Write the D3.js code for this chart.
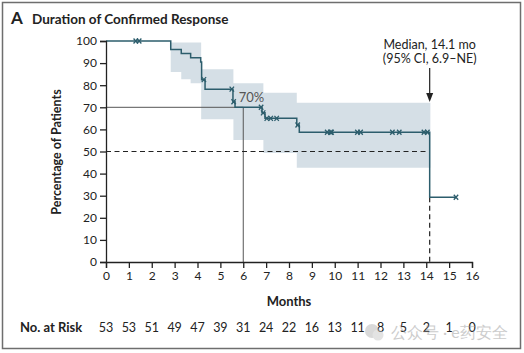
<!DOCTYPE html>
<html>
<head>
<meta charset="utf-8">
<script src="https://cdn.jsdelivr.net/npm/d3@7"></script>
<style>
  html, body { margin: 0; padding: 0; background: #fff; }
  svg { display: block; }
  text { font-family: Lato, "Open Sans", sans-serif; fill: #222; }
</style>
</head>
<body>
<svg id="chart" width="524" height="353"></svg>
<script>
// ---------- data ----------
const xTicks = [0,1,2,3,4,5,6,7,8,9,10,11,12,13,14,15,16];
const yTicks = [0,10,20,30,40,50,60,70,80,90,100];
const atRisk = [53,53,51,49,47,39,31,24,22,16,13,11,8,5,2,1,0];

// Kaplan-Meier step curve: event time, survival (%) after that time
const kmTimes = [0, 2.83, 3.29, 3.70, 4.14, 4.18, 4.33, 5.55, 5.64, 6.82, 6.95, 8.34, 8.45, 14.15, 15.3];
const kmSurv  = [100, 96.2, 94.3, 92.4, 90.5, 82.5, 78.2, 72.5, 70.0, 67.5, 65.0, 62.0, 58.7, 29.3, 29.3];

// censored observations
const censorTimes = [1.30, 1.45, 4.28, 5.50, 5.58, 6.78, 6.87, 7.03, 7.20, 7.46, 8.38, 9.67, 9.82, 9.86, 10.99, 11.13, 12.52, 12.82, 13.90, 14.05, 15.3];
const censorSurv  = [100, 100, 82.5, 78.2, 72.5, 70.0, 67.5, 65.0, 65.0, 65.0, 62.0, 58.7, 58.7, 58.7, 58.7, 58.7, 58.7, 58.7, 58.7, 58.7, 29.3];

// 95% confidence band (step)
const ciTimes = [2.83, 3.29, 3.70, 4.16, 5.57, 6.88, 8.34, 14.18];
const ciLower = [86.0, 82.7, 80.9, 64.6, 55.2, 49.3, 42.7, 42.7];
const ciUpper = [99.3, 99.3, 99.3, 87.2, 80.9, 76.6, 72.1, 72.1];

const medianTime = 14.15;
const landmarkTime = 6;
const landmarkSurv = 70;

// ---------- drawing ----------
const svg = d3.select("#chart");
const x = d3.scaleLinear().domain([0,16]).range([106,472]);
const y = d3.scaleLinear().domain([0,100]).range([262,41]);

const curveCol = "#2c5d6c";
const bandCol = "#d5dfe6";

// frame
svg.append("rect").attr("x",2.5).attr("y",2.5).attr("width",518).attr("height",346)
  .attr("fill","none").attr("stroke","#6e6e6e").attr("stroke-width",1.5);

// title
svg.append("text").attr("x",11).attr("y",24).attr("font-size",17).attr("font-weight","bold").text("A");
svg.append("text").attr("x",32).attr("y",24).attr("font-size",13.5).attr("font-weight","bold").text("Duration of Confirmed Response");

// CI band
const band = ciTimes.map((t,i)=>({t, lo: ciLower[i], hi: ciUpper[i]}));
svg.append("path").datum(band)
  .attr("fill", bandCol)
  .attr("d", d3.area().curve(d3.curveStepAfter)
    .x(d=>x(d.t)).y0(d=>y(d.lo)).y1(d=>y(d.hi)));

// reference lines
svg.append("line").attr("x1",x(0)).attr("x2",x(landmarkTime)).attr("y1",y(landmarkSurv)).attr("y2",y(landmarkSurv))
  .attr("stroke","#555").attr("stroke-width",1);
svg.append("line").attr("x1",x(landmarkTime)).attr("x2",x(landmarkTime)).attr("y1",y(landmarkSurv)).attr("y2",y(0))
  .attr("stroke","#555").attr("stroke-width",1);
svg.append("line").attr("x1",x(0)).attr("x2",x(medianTime)).attr("y1",y(50)).attr("y2",y(50))
  .attr("stroke","#222").attr("stroke-width",1).attr("stroke-dasharray","5,3.5");
svg.append("line").attr("x1",x(medianTime)).attr("x2",x(medianTime)).attr("y1",y(kmSurv[kmSurv.length-1])).attr("y2",y(0))
  .attr("stroke","#222").attr("stroke-width",1.2).attr("stroke-dasharray","5,3.5");

// KM curve
const km = kmTimes.map((t,i)=>({t, s: kmSurv[i]}));
svg.append("path").datum(km)
  .attr("fill","none").attr("stroke",curveCol).attr("stroke-width",1.5)
  .attr("d", d3.line().curve(d3.curveStepAfter).x(d=>x(d.t)).y(d=>y(d.s)));

// censor marks
const cens = censorTimes.map((t,i)=>({t, s: censorSurv[i]}));
svg.append("g").selectAll("path").data(cens).join("path")
  .attr("transform", d=>`translate(${x(d.t)},${y(d.s)})`)
  .attr("d","M-2.2,-2.5L2.2,2.5M-2.2,2.5L2.2,-2.5")
  .attr("stroke",curveCol).attr("stroke-width",1.3).attr("fill","none");

// 70% label
svg.append("text").attr("x",x(5.8)).attr("y",y(72.5)).attr("font-size",13)
  .style("fill","#555").text("70%");

// median annotation
svg.append("text").attr("x",x(medianTime)).attr("y",49).attr("text-anchor","middle").attr("font-size",12.5).text("Median, 14.1 mo");
svg.append("text").attr("x",x(medianTime)).attr("y",63).attr("text-anchor","middle").attr("font-size",12.5).text("(95% CI, 6.9\u2013NE)");
svg.append("line").attr("x1",x(medianTime)).attr("x2",x(medianTime)).attr("y1",68).attr("y2",94)
  .attr("stroke","#222").attr("stroke-width",1.2);
svg.append("path").attr("d",`M${x(medianTime)-3.5},93L${x(medianTime)+3.5},93L${x(medianTime)},102Z`).attr("fill","#222");

// axes
const yAxis = svg.append("g").attr("transform",`translate(${x(0)},0)`)
  .call(d3.axisLeft(y).tickValues(yTicks).tickSize(6).tickPadding(3));
const xAxis = svg.append("g").attr("transform",`translate(0,${y(0)})`)
  .call(d3.axisBottom(x).tickValues(xTicks).tickSize(6).tickPadding(3));
[yAxis, xAxis].forEach(g=>{
  g.select(".domain").attr("stroke","#222").attr("stroke-width",1.3);
  g.selectAll(".tick line").attr("stroke","#222").attr("stroke-width",1.3);
  g.selectAll(".tick text").attr("font-size",12).attr("font-family","Lato, sans-serif").attr("fill","#222");
});

// axis titles
svg.append("text").attr("transform","translate(61,152) rotate(-90)").attr("text-anchor","middle")
  .attr("font-size",12.5).attr("font-weight","bold").text("Percentage of Patients");
svg.append("text").attr("x",x(8)).attr("y",306).attr("text-anchor","middle")
  .attr("font-size",13).attr("font-weight","bold").text("Months");

// at risk
svg.append("text").attr("x",20).attr("y",332).attr("font-size",13).attr("font-weight","bold").text("No. at Risk");
svg.append("g").selectAll("text").data(atRisk).join("text")
  .attr("x",(d,i)=>x(xTicks[i])).attr("y",332).attr("text-anchor","middle").attr("font-size",12.5).text(d=>d);

// watermark (overlay, as in the reference)
const wm = svg.append("g").attr("opacity",0.5);
wm.append("circle").attr("cx",372).attr("cy",331).attr("r",7).attr("fill","#b5b5b5");
wm.append("circle").attr("cx",378).attr("cy",335).attr("r",5.5).attr("fill","#c8c8c8");
wm.append("text").attr("x",391).attr("y",338).attr("font-size",16)
  .attr("font-family","'Noto Sans CJK SC', sans-serif").style("fill","#9a9a9a").text("公众号 · e药安全");
</script>
</body>
</html>
